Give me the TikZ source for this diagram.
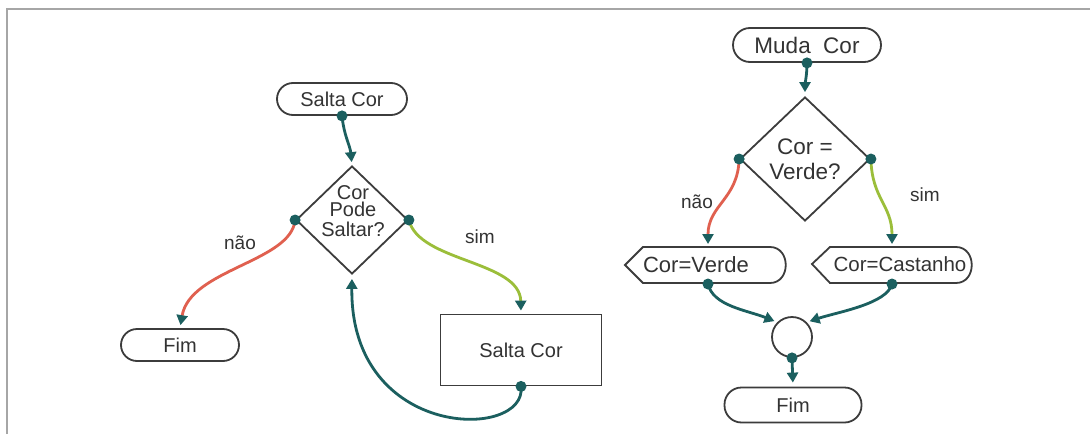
\documentclass[tikz,border=0pt]{standalone}
\usepackage{fontspec}
\setmainfont{Liberation Sans}
\usetikzlibrary{shapes.geometric,arrows.meta}
\definecolor{tealc}{HTML}{1B5F5F}
\definecolor{redc}{HTML}{E0604F}
\definecolor{greenc}{HTML}{9BBE3A}
\definecolor{edgec}{HTML}{3C3C3C}
\definecolor{txtc}{HTML}{333333}
\definecolor{framec}{HTML}{A6A6A6}
\begin{document}
\begin{tikzpicture}[x=1pt,y=-1pt,
  txt/.style={text=txtc,inner sep=0pt},
  f20/.style={font=\fontsize{20}{24}\selectfont},
  f23/.style={font=\fontsize{22.5}{25}\selectfont},
  term/.style={draw=edgec,line width=1.8pt,rounded corners=16pt,minimum height=32pt,inner sep=0pt,text=txtc},
  shp/.style={draw=edgec,line width=1.8pt},
  lbl/.style={text=txtc,font=\fontsize{19}{22}\selectfont,inner sep=0pt},
  tip/.style={-{Triangle[width=11pt,length=10pt,color=tealc]}},
  conn/.style={tip,draw=tealc,line width=2.8pt,shorten >=3pt},
  rconn/.style={tip,draw=redc,line width=2.8pt,shorten >=3pt},
  gconn/.style={tip,draw=greenc,line width=2.8pt,shorten >=3pt},
  cdot/.style={fill=tealc}
]
\useasboundingbox (0,0) rectangle (1090,434);
\fill[white] (0,0) rectangle (1090,434);
\draw[framec,line width=2.5pt] (7,434) -- (7,9) -- (1090,9);

% ---------- left diagram ----------
\node[term,f20,minimum width=130pt] (s1) at (342,99) {Salta Cor};
\node[shp,diamond,minimum width=112pt,minimum height=108pt,inner sep=0pt] (d1) at (352,220) {};
\node[txt,align=center,font=\fontsize{20}{20}\selectfont] (d1t) at (353,211) {Cor\\[-3pt]Pode\\Saltar?};
\node[term,f20,minimum width=118pt] (f1) at (180,345) {Fim};
\node[shp,f20,text=txtc,minimum width=161pt,minimum height=71pt,inner sep=0pt] (r1) at (521,350) {Salta Cor};
\node[lbl] (l1) at (240,243) {não};
\node[lbl] (l2) at (480,237) {sim};

\draw[conn] (s1.south) .. controls +(2,20) and +(-2,-20) .. (d1.north);
\draw[rconn] (d1.west) .. controls +(-4,42) and +(10,-59) .. (f1.north);
\draw[gconn] (d1.east) .. controls +(10,42) and +(-1,-53) .. (r1.north);
\draw[conn,shorten >=4pt] (r1.south) .. controls +(7,54) and +(-2,166) .. (d1.south);

\fill[cdot] (s1.south) circle (5.5);
\fill[cdot] (d1.west) circle (5.5);
\fill[cdot] (d1.east) circle (5.5);
\fill[cdot] (r1.south) circle (5.5);

% ---------- right diagram ----------
\node[term,f23,minimum width=148pt,minimum height=34pt,rounded corners=17pt] (m) at (807,45) {Muda\ \ Cor};
\node[shp,diamond,minimum width=130pt,minimum height=124pt,inner sep=0pt,align=center,text=txtc,font=\fontsize{22.5}{25}\selectfont] (d2) at (805,159) {Cor =\\Verde?};
\draw[shp] (625,265) -- (643,247) -- (770,247) .. controls (791,247) and (791,283) .. (770,283) -- (643,283) -- cycle;
\node[txt,font=\fontsize{22}{24}\selectfont] (v1) at (696,265) {Cor=Verde};
\draw[shp] (812,264) -- (830,247) -- (956,247) .. controls (977,247) and (977,283) .. (956,283) -- (830,283) -- cycle;
\node[txt,font=\fontsize{20.5}{24}\selectfont] (c1) at (900,264) {Cor=Castanho};
\coordinate (v1in) at (708,247);
\coordinate (v1out) at (708,284);
\coordinate (c1in) at (892,247);
\coordinate (c1out) at (892,284);
\node[shp,circle,minimum size=40pt,inner sep=0pt] (j) at (792,337) {};
\node[term,f20,minimum width=137pt,minimum height=35pt,rounded corners=17pt] (f2) at (793,405) {Fim};
\node[lbl] (l3) at (697,202) {não};
\node[lbl] (l4) at (925,195) {sim};

\draw[conn,shorten >=4pt] (m.south) .. controls +(0,12) and +(0,-12) .. (d2.north);
\draw[rconn] (d2.west) .. controls +(-1,40) and +(0,-42) .. (v1in);
\draw[gconn] (d2.east) .. controls +(1,40) and +(0,-42) .. (c1in);
\draw[conn] (v1out) .. controls +(5,22) and +(-30,-12) .. (j.north west);
\draw[conn] (c1out) .. controls +(-5,20) and +(30,-10) .. (j.north east);
\draw[conn,shorten >=4pt] (j.south) -- (f2.north);

\fill[cdot] (m.south) circle (5.5);
\fill[cdot] (d2.west) circle (5.5);
\fill[cdot] (d2.east) circle (5.5);
\fill[cdot] (v1out) circle (5.5);
\fill[cdot] (c1out) circle (5.5);
\fill[cdot] (j.south) circle (5.5);
\end{tikzpicture}
\end{document}
